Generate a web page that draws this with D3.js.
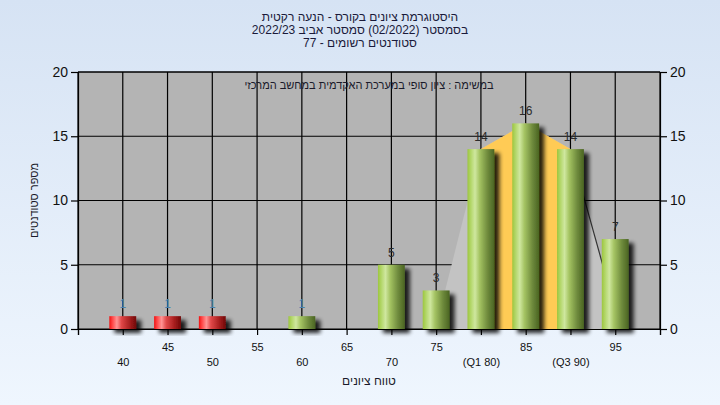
<!DOCTYPE html>
<html><head><meta charset="utf-8">
<script src="https://cdn.jsdelivr.net/npm/d3@7"></script>
<style>
html,body{margin:0;padding:0;}
svg{display:block;font-family:"Liberation Sans",Arial,sans-serif;}
</style></head>
<body><svg id="c" width="720" height="405"></svg>
<script>
// ---- data ----
const titleLines = ["היסטוגרמת ציונים בקורס - הנעה רקטית", "בסמסטר  (02/2022)  סמסטר אביב 2022/23", "סטודנטים רשומים - 77"];
const subTitle = "במשימה : ציון סופי במערכת האקדמית במחשב המרכזי";
const xTitle = "טווח ציונים";
const yTitle = "מספר סטודנטים";
const scores = [40, 45, 50, 60, 70, 75, 80, 85, 90, 95];
const counts = [1, 1, 1, 1, 5, 3, 14, 16, 14, 7];
const failing = [true, true, true, false, false, false, false, false, false, false];
const xTicks = [35, 40, 45, 50, 55, 60, 65, 70, 75, 80, 85, 90, 95, 100];
const xTickLabels = ["", "40", "45", "50", "55", "60", "65", "70", "75", "(Q1 80)", "85", "(Q3 90)", "95", ""];
const yTicks = [0, 5, 10, 15, 20];
// background distribution area
const areaScores = [76, 80, 85, 90, 93.6];
const areaCounts = [3, 14, 16, 14, 5];
const quartiles = [80, 90];

// ---- chart ----
const svg = d3.select("#c");
const W = 720, H = 405;
const m = {l: 78, r: 60, t: 72, b: 76};
const x = d3.scaleLinear().domain([35, 100]).range([m.l, W - m.r]);
const y = d3.scaleLinear().domain([0, 20]).range([H - m.b, m.t]);

const defs = svg.append("defs");
const bg = defs.append("linearGradient").attr("id", "bg").attr("x1", 0).attr("y1", 0).attr("x2", 0).attr("y2", 1);
bg.append("stop").attr("offset", "0%").attr("stop-color", "#d6e3f4");
bg.append("stop").attr("offset", "100%").attr("stop-color", "#eff6fe");

function cyl(id, stops) {
  const g = defs.append("linearGradient").attr("id", id).attr("x1", 0).attr("y1", 0).attr("x2", 1).attr("y2", 0);
  stops.forEach(s => g.append("stop").attr("offset", s[0]).attr("stop-color", s[1]));
}
cyl("green", [["0%", "#9cc63e"], ["12%", "#b2d668"], ["28%", "#cfe79f"], ["45%", "#a5c463"], ["75%", "#6e8a3c"], ["100%", "#4a6422"]]);
cyl("red", [["0%", "#f01414"], ["12%", "#ff4a4a"], ["28%", "#ff9494"], ["45%", "#e04848"], ["75%", "#a82020"], ["100%", "#700808"]]);

const sh = defs.append("filter").attr("id", "shadow").attr("x", "-30%").attr("y", "-30%").attr("width", "180%").attr("height", "180%");
sh.append("feGaussianBlur").attr("in", "SourceAlpha").attr("stdDeviation", 2);
sh.append("feOffset").attr("dx", 5).attr("dy", 4).attr("result", "o");
sh.append("feComponentTransfer").append("feFuncA").attr("type", "linear").attr("slope", 0.85);
const mg = sh.append("feMerge");
mg.append("feMergeNode");
mg.append("feMergeNode").attr("in", "SourceGraphic");

svg.append("rect").attr("width", W).attr("height", H).attr("fill", "url(#bg)");

// plot background
svg.append("rect").attr("x", x(35)).attr("y", y(20)).attr("width", x(100) - x(35)).attr("height", y(0) - y(20)).attr("fill", "#b4b4b4");

// gridlines
const grid = svg.append("g").attr("stroke", "#000").attr("stroke-width", 1.2);
xTicks.forEach(t => grid.append("line").attr("x1", x(t)).attr("x2", x(t)).attr("y1", y(0)).attr("y2", y(20)));
yTicks.forEach(t => grid.append("line").attr("x1", x(35)).attr("x2", x(100)).attr("y1", y(t)).attr("y2", y(t)));

// background area
const pts = areaScores.map((s, i) => [s, areaCounts[i]]);
const area = d3.area().x(d => x(d[0])).y0(y(0)).y1(d => y(d[1]));
svg.append("path").datum(pts).attr("d", area).attr("fill", "#c3c3c3");
const qPts = pts.filter(p => p[0] >= quartiles[0] && p[0] <= quartiles[1]);
svg.append("path").datum(qPts).attr("d", area).attr("fill", "#ffcb55");
const tail = pts.filter(p => p[0] >= quartiles[1]);
svg.append("path").datum(tail).attr("d", d3.line().x(d => x(d[0])).y(d => y(d[1])))
  .attr("fill", "none").attr("stroke", "#333").attr("stroke-width", 1.2);

// axes
const leftAx = svg.append("g").attr("transform", `translate(${x(35)},0)`).call(d3.axisLeft(y).tickValues(yTicks).tickSize(7).tickPadding(3));
const rightAx = svg.append("g").attr("transform", `translate(${x(100)},0)`).call(d3.axisRight(y).tickValues(yTicks).tickSize(7).tickPadding(3));
[leftAx, rightAx].forEach(a => {
  a.selectAll("text").attr("font-size", 14).attr("font-family", "Liberation Sans, Arial, sans-serif").attr("fill", "#111");
  a.selectAll("line,path").attr("stroke", "#000").attr("stroke-width", 1.2);
});
const botAx = svg.append("g").attr("transform", `translate(0,${y(0)})`)
  .call(d3.axisBottom(x).tickValues(xTicks).tickSize(6).tickFormat((d, i) => xTickLabels[i]));
botAx.selectAll("line,path").attr("stroke", "#000").attr("stroke-width", 1.2);
botAx.selectAll("text").attr("font-size", 11).attr("font-family", "Liberation Sans, Arial, sans-serif").attr("fill", "#111")
  .attr("dy", (d, i) => (i % 2 === 1 ? "2.55em" : "1.2em"));
svg.append("line").attr("x1", x(35)).attr("x2", x(100)).attr("y1", y(20)).attr("y2", y(20)).attr("stroke", "#000").attr("stroke-width", 1.2);

// bars
const bw = (x(5) - x(0)) * 0.6;
const bars = svg.append("g");
scores.forEach((s, i) => {
  bars.append("rect").attr("x", x(s) - bw / 2).attr("y", y(counts[i])).attr("width", bw).attr("height", y(0) - y(counts[i]))
    .attr("fill", failing[i] ? "url(#red)" : "url(#green)").attr("filter", "url(#shadow)");
});
scores.forEach((s, i) => {
  svg.append("text").attr("x", x(s)).attr("y", y(counts[i]) - 8).attr("text-anchor", "middle")
    .attr("font-size", 12).attr("fill", counts[i] === 1 ? "#4a82ae" : "#2a2a2a").text(counts[i]);
});

// texts
titleLines.forEach((t, i) => {
  svg.append("text").attr("x", 360).attr("y", 21 + i * 13).attr("text-anchor", "middle").attr("direction", "rtl")
    .attr("font-size", 12).attr("fill", "#1a1a3a").text(t);
});
svg.append("text").attr("x", (x(35) + x(100)) / 2).attr("y", 89).attr("text-anchor", "middle").attr("direction", "rtl")
  .attr("font-size", 11).attr("fill", "#1a1a2a").text(subTitle);
svg.append("text").attr("x", (x(35) + x(100)) / 2).attr("y", 385).attr("text-anchor", "middle").attr("direction", "rtl")
  .attr("font-size", 12).attr("fill", "#1a1a2a").text(xTitle);
svg.append("text").attr("transform", `translate(38,${(y(0) + y(20)) / 2}) rotate(-90)`).attr("text-anchor", "middle").attr("direction", "rtl")
  .attr("font-size", 11).attr("fill", "#1a1a2a").text(yTitle);
</script></body></html>
